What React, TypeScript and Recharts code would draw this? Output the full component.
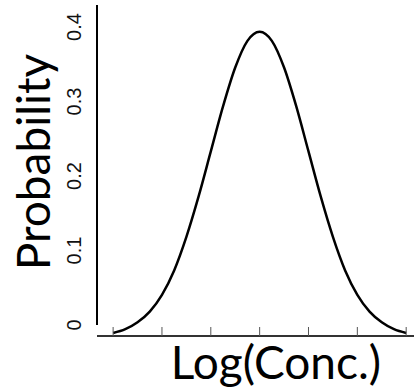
import { ComposedChart, Line, XAxis, YAxis, ReferenceLine } from "recharts";

// Density curve sampled every quarter unit of log concentration
const logConc = [
  -3, -2.75, -2.5, -2.25, -2, -1.75, -1.5, -1.25, -1, -0.75, -0.5, -0.25, 0,
  0.25, 0.5, 0.75, 1, 1.25, 1.5, 1.75, 2, 2.25, 2.5, 2.75, 3,
];
const probability = [
  0.004, 0.009, 0.018, 0.032, 0.054, 0.086, 0.13, 0.183, 0.242, 0.301, 0.352,
  0.387, 0.399, 0.387, 0.352, 0.301, 0.242, 0.183, 0.13, 0.086, 0.054, 0.032,
  0.018, 0.009, 0.004,
];

const xTicks = [-3, -2, -1, 0, 1, 2, 3];
const yTicks = [0, 0.1, 0.2, 0.3, 0.4];

const X_DOMAIN: [number, number] = [-3.33, 3.16];
const Y_TICK_DOMAIN: [number, number] = [-0.0148, 0.4295];
const Y_CURVE_DOMAIN: [number, number] = [0, 0.434];

const data = logConc.map((x, i) => ({ x, p: probability[i] }));

const labelFont = "Lato, 'Liberation Sans', sans-serif";
const tickFont = "'Liberation Sans', Arial, sans-serif";

function RotatedTick({ x, y, payload }: any) {
  return (
    <text
      x={x}
      y={y}
      transform={`rotate(-90, ${x}, ${y})`}
      textAnchor="middle"
      fontSize={20}
      fontFamily={tickFont}
      fill="#111"
    >
      {payload.value}
    </text>
  );
}

// x ticks point up into the plot
function UpTick({ x, y }: any) {
  return <line x1={x} x2={x} y1={y} y2={y - 9} stroke="#555" strokeWidth={1} />;
}

function YTitle({ viewBox }: any) {
  const x = viewBox.x + 50;
  const y = viewBox.y + 157;
  return (
    <text
      x={x}
      y={y}
      transform={`rotate(-90, ${x}, ${y})`}
      textAnchor="middle"
      fontSize={46}
      fontFamily={labelFont}
      fill="#000"
    >
      Probability
    </text>
  );
}

function XTitle({ viewBox }: any) {
  return (
    <text
      x={viewBox.x + 179}
      y={viewBox.y + 43}
      textAnchor="middle"
      fontSize={46}
      fontFamily={labelFont}
      fill="#000"
    >
      Log(Conc.)
    </text>
  );
}

export default function App() {
  return (
    <div style={{ position: "absolute", left: 0, top: 0, background: "#fff" }}>
      <ComposedChart
        width={414}
        height={388}
        data={data}
        margin={{ top: 5, right: 0, left: 0, bottom: 0 }}
      >
        <XAxis
          dataKey="x"
          type="number"
          domain={X_DOMAIN}
          ticks={xTicks}
          tick={<UpTick />}
          tickLine={false}
          tickSize={0}
          tickMargin={0}
          height={52}
          axisLine={{ stroke: "#333", strokeWidth: 2 }}
          label={{ content: <XTitle /> }}
        />
        <YAxis
          yAxisId="ticks"
          orientation="left"
          type="number"
          domain={Y_TICK_DOMAIN}
          allowDataOverflow
          ticks={yTicks}
          width={97}
          axisLine={false}
          tickLine={false}
          tickSize={0}
          tickMargin={16}
          tick={<RotatedTick />}
          label={{ content: <YTitle /> }}
        />
        <YAxis
          yAxisId="curve"
          orientation="right"
          type="number"
          domain={Y_CURVE_DOMAIN}
          width={0}
          hide
        />

        {/* vertical axis line stops at the 0 tick */}
        <ReferenceLine
          yAxisId="ticks"
          ifOverflow="visible"
          segment={[
            { x: X_DOMAIN[0], y: 0 },
            { x: X_DOMAIN[0], y: Y_TICK_DOMAIN[1] },
          ]}
          stroke="#000"
          strokeWidth={2}
        />

        <Line
          yAxisId="curve"
          dataKey="p"
          type="monotone"
          stroke="#000"
          strokeWidth={2.5}
          dot={false}
          isAnimationActive={false}
        />
      </ComposedChart>
    </div>
  );
}
